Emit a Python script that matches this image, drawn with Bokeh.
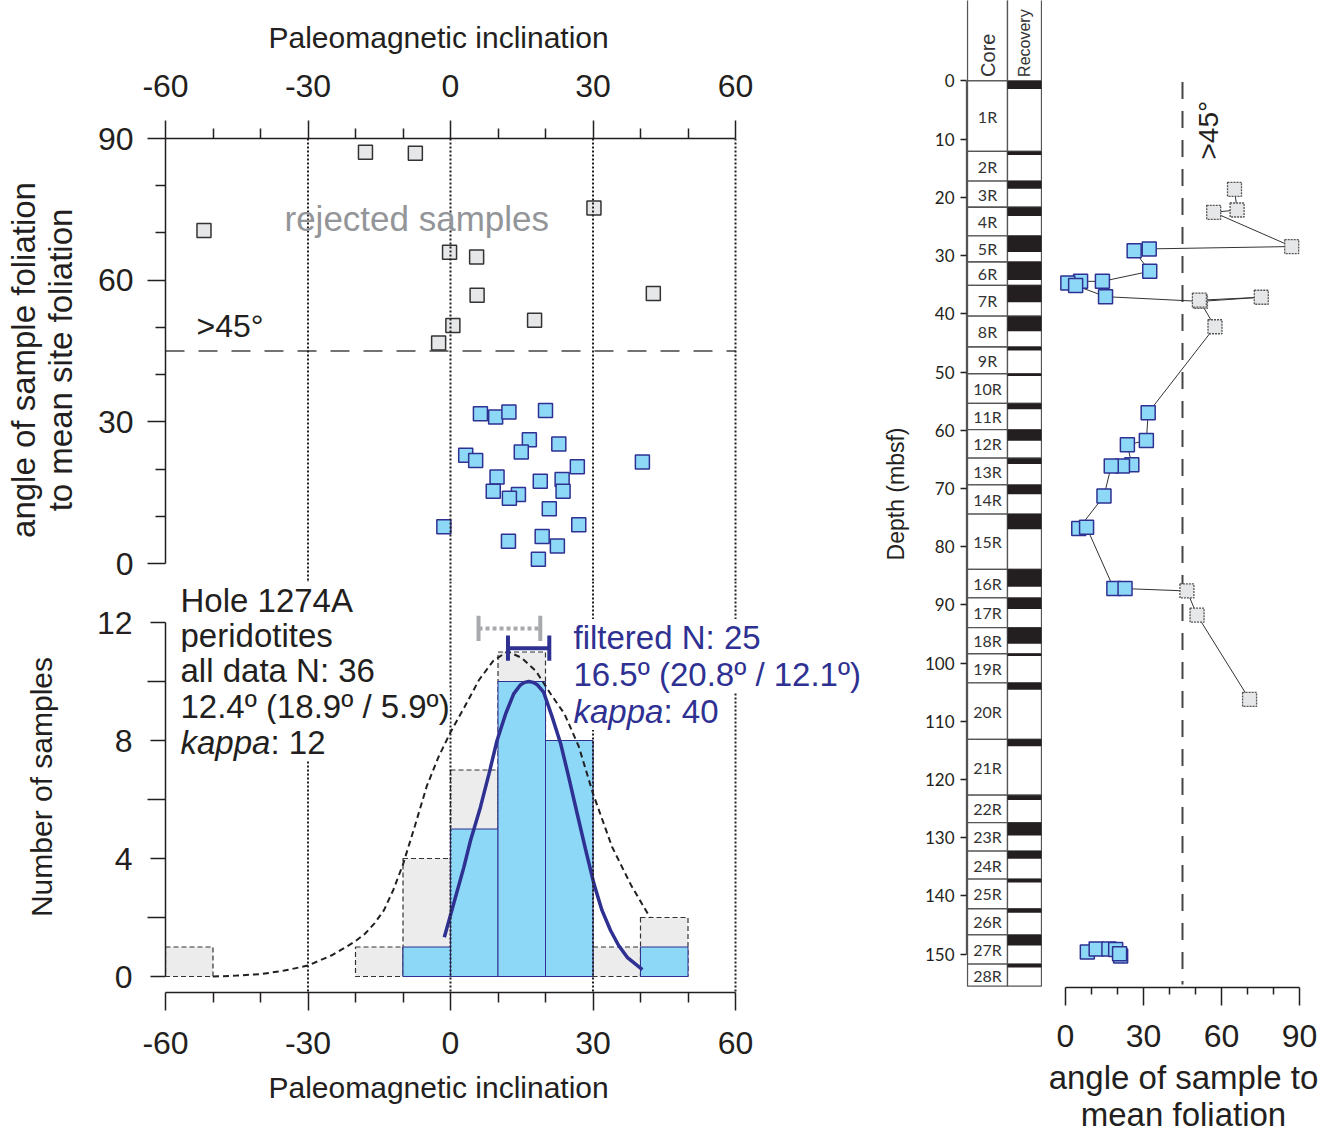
import math
from bokeh.plotting import figure
from bokeh.models import Range1d, FixedTicker, Label, Span, Title
from bokeh.layouts import row, column
from bokeh.embed import file_html
from bokeh.resources import INLINE
from bokeh.core.properties import value

FONT = "Liberation Sans"
GEO = "Lato"
DARK = "#231f20"
BLUE_FILL = "#8dd7f7"
BLUE_LINE = "#2e3192"
GRAY_FILL = "#e6e7e8"
BAR_GRAY = "#ececec"
TXT_GRAY = "#939598"

# ---------------- data: scatter (top left) ----------------
inc_ok = [6.3, 9.5, 12.3, 20.0, 16.6, 22.8, 14.9, 3.2, 5.3, 26.7, 9.8, 18.9, 23.5,
          9.0, 14.3, 12.4, 23.7, 20.8, -1.4, 27.0, 12.2, 19.3, 22.5, 18.5, 40.4]
ang_ok = [31.7, 31.0, 32.1, 32.4, 26.2, 25.3, 23.6, 22.9, 21.8, 20.5, 18.3, 17.4, 17.8,
          15.3, 14.6, 13.8, 15.3, 11.6, 7.8, 8.2, 4.7, 5.7, 3.7, 0.9, 21.5]
inc_rej = [-17.9, -7.4, -51.9, -0.2, 5.5, 5.6, 0.5, -2.5, 30.2, 42.7, 17.7]
ang_rej = [87.1, 86.9, 70.5, 65.9, 64.9, 56.8, 50.4, 46.7, 75.3, 57.2, 51.5]
threshold = 45
inc_ticks = [-60, -30, 0, 30, 60]
inc_minor = [-50, -40, -20, -10, 10, 20, 40, 50]
ang_ticks = [0, 30, 60, 90]
ang_minor = [10, 20, 40, 50, 70, 80]

# ---------------- data: histogram (bottom left) ----------------
bin_left = [-60, -50, -40, -30, -20, -10, 0, 10, 20, 30, 40]
bin_width = 10
count_all = [1, 0, 0, 0, 1, 4, 7, 11, 8, 1, 2]
count_filtered = [0, 0, 0, 0, 0, 1, 5, 10, 8, 0, 1]
count_ticks = [0, 4, 8, 12]
count_minor = [2, 6, 10]
curve_all_x = [-50, -45, -40, -35, -30, -25, -22.5, -20, -18, -16, -14, -12, -10, -7.5,
               -5, -2.5, 0, 3, 6, 9, 12, 15, 18, 21, 24, 27, 30, 34, 38, 42]
curve_all_y = [0.0, 0.03, 0.08, 0.2, 0.37, 0.72, 0.95, 1.2, 1.45, 1.8, 2.25, 2.95, 3.8,
               5.1, 6.45, 7.45, 8.28, 9.15, 10.05, 10.7, 11.02, 10.8, 10.35, 9.6, 8.9,
               7.8, 6.2, 4.4, 3.1, 2.0]
curve_filt_x = [-1.3, 2.8, 4.2, 6.3, 8.1, 9.8, 11.6, 13.3, 14.7, 15.6, 16.5, 17.4, 18.2,
                19.6, 21.4, 23.2, 24.9, 26.7, 28.4, 30.2, 31.9, 33.7, 35.4, 37.2, 40.4]
curve_filt_y = [1.33, 3.7, 4.6, 5.74, 6.87, 8.0, 8.9, 9.58, 9.88, 9.97, 10.0, 9.97, 9.9,
                9.64, 8.8, 7.89, 6.75, 5.5, 4.33, 3.14, 2.24, 1.56, 1.05, 0.65, 0.23]
all_mean, all_hi, all_lo, all_n, all_kappa = 12.4, 18.9, 5.9, 36, 12
filt_mean, filt_hi, filt_lo, filt_n, filt_kappa = 16.5, 20.8, 12.1, 25, 40

# ---------------- data: depth log (right) ----------------
core_names = [f"{i}R" for i in range(1, 29)]
core_top = [0, 12.1, 17.2, 21.7, 26.6, 31.1, 35.1, 40.4, 45.7, 50.3, 55.4, 59.9, 64.8,
            69.4, 74.4, 83.9, 88.8, 93.9, 98.4, 103.4, 113.1, 122.7, 127.4, 132.3,
            137.1, 142.2, 146.7, 151.7]
core_bottom = core_top[1:] + [155.5]
recovered = [1.4, 0.6, 1.3, 1.5, 2.8, 3.1, 2.9, 2.6, 0.6, 0.4, 1.0, 1.9, 1.0, 1.6, 2.6,
             3.0, 1.9, 2.8, 0.4, 1.2, 1.2, 0.8, 2.2, 1.3, 0.6, 0.7, 1.8, 0.6]
depth_ticks = list(range(0, 151, 10))
site_depth = [18.2, 21.7, 22.1, 27.9, 28.3, 28.6, 32.1, 33.8, 33.8, 34.1, 34.5, 36.4,
              37.2, 36.5, 37.0, 41.5, 56.1, 60.8, 61.5, 64.9, 65.1, 65.1, 70.2, 75.7,
              75.5, 85.9, 85.9, 86.3, 90.4, 104.7]
site_angle = [65, 66, 57, 87, 32.2, 26.4, 32.4, 14.2, 5.8, 0.9, 3.9, 15.4, 51.9, 75.3,
              51.5, 57.5, 31.8, 31.1, 23.8, 25.5, 21.9, 17.6, 14.8, 5.1, 8.1, 18.6, 22.9,
              46.7, 50.6, 70.8]
site_rejected = [1, 1, 1, 1, 0, 0, 0, 0, 0, 0, 0, 0, 1, 1, 1, 1, 0, 0, 0, 0, 0, 0, 0,
                 0, 0, 0, 0, 1, 1, 1]
low_depth = [147.5, 147.0, 147.0, 147.1, 148.2, 147.8]
low_angle = [8.4, 11.8, 16.7, 19.3, 21.2, 20.8]


def style_axis(ax, label_size=32, title_size=30, font=FONT):
    ax.axis_line_color = DARK
    ax.axis_line_width = 1.5
    ax.major_tick_line_color = DARK
    ax.major_tick_line_width = 1.5
    ax.minor_tick_line_color = DARK
    ax.minor_tick_line_width = 1.5
    ax.major_tick_in = 0
    ax.minor_tick_in = 0
    ax.major_label_text_font = font
    ax.major_label_text_font_size = f"{label_size}px"
    ax.major_label_text_color = DARK
    ax.axis_label_text_font = FONT
    ax.axis_label_text_font_size = f"{title_size}px"
    ax.axis_label_text_font_style = "normal"
    ax.axis_label_text_color = DARK


def add_label(fig, x, y, text, size, color=DARK, style="normal", align="left",
              baseline="middle", angle=0.0, bg=None, font=FONT):
    lab = Label(x=x, y=y, text=text, text_font=font, text_font_size=f"{size}px",
                text_color=color, text_font_style=style, text_align=align,
                text_baseline=baseline, angle=angle)
    if bg is not None:
        lab.background_fill_color = bg
    fig.add_layout(lab)


def side_title(fig, text, place, offset, standoff):
    t = Title(text=text, align="left", offset=offset, standoff=standoff,
              text_font=FONT, text_font_size="30px", text_font_style="normal",
              text_color=DARK)
    fig.add_layout(t, place)


def base_fig(**kw):
    f = figure(output_backend="svg", toolbar_location=None, **kw)
    f.outline_line_color = None
    f.xgrid.visible = False
    f.ygrid.visible = False
    f.background_fill_color = "white"
    f.border_fill_color = "white"
    return f


minus_fix = {-60: "-60", -30: "-30"}
SPLIT = 581          # pixel row where the top panel ends and the histogram begins
TS = 33              # annotation text size
KW = 90              # width of italic "kappa"
FRAME_L, FRAME_R = 165, 870
TITLE_OFFSET = 268 - FRAME_L

# ================= top-left: angle vs inclination =================
PX_INC = 4.75
PX_ANG = 425 / 90.0
x_end = -60 + (FRAME_R - FRAME_L) / PX_INC
figA = base_fig(width=FRAME_R, height=SPLIT, x_range=Range1d(-60, x_end),
                y_range=Range1d(-(SPLIT - 563) / PX_ANG, 90), x_axis_location="above",
                min_border_left=FRAME_L, min_border_top=138, min_border_bottom=0,
                min_border_right=0)
for xv in inc_ticks[1:]:
    figA.add_layout(Span(location=xv, dimension="height", line_color=DARK,
                         line_width=2, line_dash="2 2"))
figA.segment(x0=[inc_ticks[0]], x1=[inc_ticks[-1]], y0=[threshold], y1=[threshold],
             line_color="#444444", line_width=1.6, line_dash="19 14")
figA.scatter(inc_rej, ang_rej, marker="square", size=14, fill_color=GRAY_FILL,
             line_color="#333333", line_width=1.5)
figA.scatter(inc_ok, ang_ok, marker="square", size=14, fill_color=BLUE_FILL,
             line_color=BLUE_LINE, line_width=1.5)
add_label(figA, (284 - 450) / PX_INC, (563 - 218) / PX_ANG, "rejected samples", 35,
          color=TXT_GRAY)
add_label(figA, (196 - 450) / PX_INC, (563 - 325) / PX_ANG, ">45°", 32)

axT = figA.xaxis[0]
axT.ticker = FixedTicker(ticks=inc_ticks, minor_ticks=inc_minor)
axT.bounds = (-60, 60)
style_axis(axT)
axT.major_label_overrides = minus_fix
axT.major_tick_out = 18
axT.minor_tick_out = 10
axT.major_label_standoff = 24
side_title(figA, "Paleomagnetic inclination", "above", TITLE_OFFSET, 35)

axL = figA.yaxis[0]
axL.ticker = FixedTicker(ticks=ang_ticks, minor_ticks=ang_minor)
axL.bounds = (0, 90)
axL.axis_label = "angle of sample foliation\nto mean site foliation"
style_axis(axL, title_size=33)
axL.axis_label_text_line_height = 1.0
axL.major_tick_out = 18
axL.minor_tick_out = 10
axL.major_label_standoff = 14
axL.axis_label_standoff = 16

# ================= bottom-left: histogram =================
PX_CNT = 29.5
figB = base_fig(width=FRAME_R, height=1135 - SPLIT, x_range=Range1d(-60, x_end),
                y_range=Range1d(-16 / PX_CNT, (976 - SPLIT) / PX_CNT),
                min_border_left=FRAME_L, min_border_top=0, min_border_bottom=143,
                min_border_right=0)
ga = [(l, c) for l, c in zip(bin_left, count_all) if c > 0]
figB.quad(left=[l for l, c in ga], right=[l + bin_width for l, c in ga], bottom=0,
          top=[c for l, c in ga], fill_color=BAR_GRAY, line_color="#333333",
          line_width=1.2, line_dash="5 3")
fb = [(l, c) for l, c in zip(bin_left, count_filtered) if c > 0]
figB.quad(left=[l for l, c in fb], right=[l + bin_width for l, c in fb], bottom=0,
          top=[c for l, c in fb], fill_color=BLUE_FILL, line_color=BLUE_LINE,
          line_width=1)
figB.line(curve_all_x, curve_all_y, line_color=DARK, line_width=2, line_dash="6 4")
figB.line(curve_filt_x, curve_filt_y, line_color=BLUE_LINE, line_width=3.5)

# confidence brackets
yb_all, yb_filt, cap = 11.8, 11.13, 0.43
figB.segment(x0=[all_lo], x1=[all_hi], y0=[yb_all], y1=[yb_all], line_color="#a7a9ac",
             line_width=4, line_dash="4 3")
figB.segment(x0=[all_lo, all_hi], x1=[all_lo, all_hi], y0=[yb_all - cap] * 2,
             y1=[yb_all + cap] * 2, line_color="#a7a9ac", line_width=4)
figB.segment(x0=[filt_lo], x1=[filt_hi], y0=[yb_filt], y1=[yb_filt],
             line_color=BLUE_LINE, line_width=4)
figB.segment(x0=[filt_lo, filt_hi], x1=[filt_lo, filt_hi], y0=[yb_filt - cap] * 2,
             y1=[yb_filt + cap] * 2, line_color=BLUE_LINE, line_width=4)

for xv in inc_ticks[1:]:
    figB.add_layout(Span(location=xv, dimension="height", line_color=DARK,
                         line_width=2, line_dash="2 2"))

tx = (180 - 450) / PX_INC
lines_y = [(976 - y) / PX_CNT for y in (600, 635, 670, 706, 742)]
add_label(figB, tx, lines_y[0], "Hole 1274A", TS, bg="white")
add_label(figB, tx, lines_y[1], "peridotites", TS, bg="white")
add_label(figB, tx, lines_y[2], f"all data N: {all_n}", TS, bg="white")
add_label(figB, tx, lines_y[3], f"{all_mean}º ({all_hi}º / {all_lo}º)", TS, bg="white")
add_label(figB, tx, lines_y[4], "kappa", TS, style="italic", bg="white")
add_label(figB, tx + KW / PX_INC, lines_y[4], f": {all_kappa}", TS, bg="white")

bx = (573 - 450) / PX_INC
blines_y = [(976 - y) / PX_CNT for y in (637, 674, 711)]
add_label(figB, bx, blines_y[0], f"filtered N: {filt_n}", TS, color=BLUE_LINE, bg="white")
add_label(figB, bx, blines_y[1], f"{filt_mean}º ({filt_hi}º / {filt_lo}º)", TS,
          color=BLUE_LINE, bg="white")
add_label(figB, bx, blines_y[2], "kappa", TS, color=BLUE_LINE, style="italic", bg="white")
add_label(figB, bx + KW / PX_INC, blines_y[2], f": {filt_kappa}", TS, color=BLUE_LINE,
          bg="white")

axB = figB.xaxis[0]
axB.ticker = FixedTicker(ticks=inc_ticks, minor_ticks=inc_minor)
axB.bounds = (-60, 60)
style_axis(axB)
axB.major_label_overrides = minus_fix
axB.major_tick_out = 18
axB.minor_tick_out = 10
axB.major_label_standoff = 21
side_title(figB, "Paleomagnetic inclination", "below", TITLE_OFFSET, 25)

axBL = figB.yaxis[0]
axBL.ticker = FixedTicker(ticks=count_ticks, minor_ticks=count_minor)
axBL.bounds = (0, 12)
axBL.axis_label = "Number of samples"
style_axis(axBL)
axBL.major_tick_out = 15
axBL.minor_tick_out = 18
axBL.major_label_standoff = 15
axBL.axis_label_standoff = 36

# ================= right: core log =================
PX_DEP = 890 / 150.0
dep_top = -82 / PX_DEP
figC1 = base_fig(width=172, height=1135, x_range=Range1d(-1, 75),
                 y_range=Range1d((1006 - 82) / PX_DEP, dep_top), x_axis_location=None,
                 min_border_left=96, min_border_right=0, min_border_top=0,
                 min_border_bottom=1135 - 1006)
figC1.quad(left=[0, 40], right=[40, 74], top=[dep_top - 2] * 2, bottom=[0, 0],
           fill_color="white", line_color="#555555", line_width=1.3)
figC1.quad(left=0, right=40, top=core_top, bottom=core_bottom, fill_color="white",
           line_color="#555555", line_width=1.3)
figC1.quad(left=40, right=74, top=core_top, bottom=core_bottom, fill_color="white",
           line_color="#555555", line_width=1.3)
figC1.quad(left=40, right=74, top=core_top,
           bottom=[t + r for t, r in zip(core_top, recovered)], fill_color=DARK,
           line_color=None)
figC1.text(x=[20] * len(core_names), y=[(t + b) / 2 for t, b in zip(core_top, core_bottom)],
           text=core_names, text_font=value(GEO), text_font_size="16px",
           text_align="center", text_baseline="middle", text_color="#333333")
add_label(figC1, 20, -0.7, "Core", 20, align="left", baseline="middle",
          angle=math.pi / 2, color="#333333")
add_label(figC1, 57, -0.7, "Recovery", 16, align="left", baseline="middle",
          angle=math.pi / 2, color="#333333")

axD = figC1.yaxis[0]
axD.ticker = FixedTicker(ticks=depth_ticks, minor_ticks=[])
axD.bounds = (0, 150)
axD.axis_label = "Depth (mbsf)"
style_axis(axD, label_size=17, title_size=23, font=GEO)
axD.axis_line_color = "#555555"
axD.axis_line_width = 1.3
axD.major_tick_line_width = 1.3
axD.major_tick_out = 6
axD.major_label_standoff = 6
axD.axis_label_standoff = 13

# ================= right: angle vs depth =================
PX_R = 2.6
figC2 = base_fig(width=282, height=1135,
                 x_range=Range1d((1042 - 1065) / PX_R, (1324 - 1065) / PX_R),
                 y_range=Range1d((993 - 82) / PX_DEP, dep_top), y_axis_location=None,
                 min_border_left=0, min_border_right=0, min_border_top=0,
                 min_border_bottom=1135 - 993)
figC2.segment(x0=[threshold], x1=[threshold], y0=[0], y1=[(990 - 82) / PX_DEP],
              line_color="#444444", line_width=2, line_dash="17 12")
figC2.line(site_angle, site_depth, line_color="#333333", line_width=1)
rej_a = [a for a, r in zip(site_angle, site_rejected) if r]
rej_d = [d for d, r in zip(site_depth, site_rejected) if r]
ok_a = [a for a, r in zip(site_angle, site_rejected) if not r]
ok_d = [d for d, r in zip(site_depth, site_rejected) if not r]
figC2.scatter(rej_a, rej_d, marker="square", size=14, fill_color=GRAY_FILL,
              line_color="#555555", line_width=1.3, line_dash="2 1")
figC2.scatter(ok_a, ok_d, marker="square", size=14, fill_color=BLUE_FILL,
              line_color=BLUE_LINE, line_width=1.5)
figC2.scatter(low_angle, low_depth, marker="square", size=14, fill_color=BLUE_FILL,
              line_color=BLUE_LINE, line_width=1.5)
add_label(figC2, (1208 - 1065) / PX_R, (160 - 82) / PX_DEP, ">45°", 28, align="left",
          baseline="middle", angle=math.pi / 2)

axR = figC2.xaxis[0]
axR.ticker = FixedTicker(ticks=ang_ticks, minor_ticks=ang_minor)
axR.bounds = (0, 90)
axR.axis_label = "angle of sample to\nmean foliation"
style_axis(axR, title_size=33)
axR.axis_label_text_line_height = 1.0
axR.major_tick_out = 18
axR.minor_tick_out = 7
axR.major_label_standoff = 19
axR.axis_label_standoff = 9

layout = row(column(figA, figB), figC1, figC2)
open("out.html", "w").write(file_html(layout, INLINE))
